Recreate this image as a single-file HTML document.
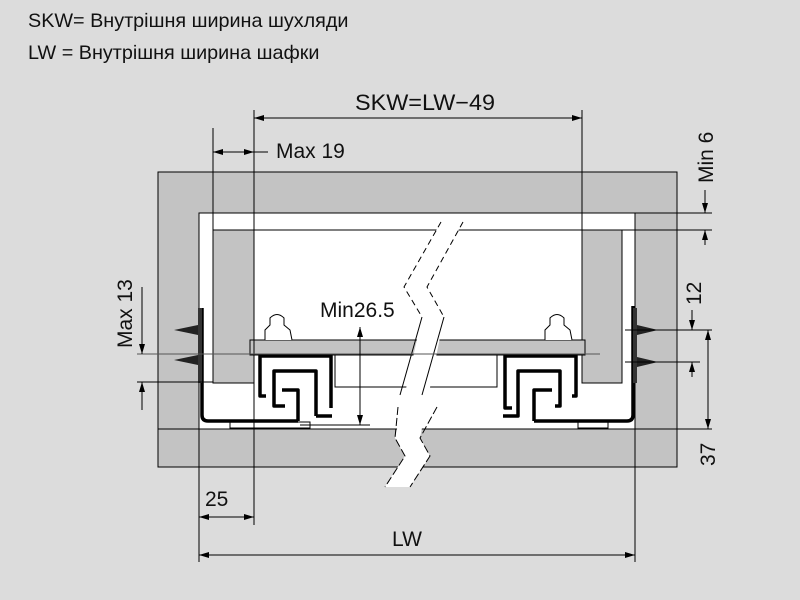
<!DOCTYPE html>
<html><head><meta charset="utf-8"><style>
html,body{margin:0;padding:0;background:#dcdcdc;}
svg{display:block;font-family:"Liberation Sans",sans-serif;}
</style></head><body>
<svg width="800" height="600" viewBox="0 0 800 600" xmlns="http://www.w3.org/2000/svg">
<defs>
<marker id="a" viewBox="0 0 10 6" refX="10" refY="3" markerWidth="10" markerHeight="6" orient="auto-start-reverse" markerUnits="userSpaceOnUse"><path d="M0,0 L10,3 L0,6z" fill="#000"/></marker>
</defs>
<rect width="800" height="600" fill="#dcdcdc"/>
<text x="28" y="27" font-size="19.8" fill="#111">SKW= Внутрішня ширина шухляди</text>
<text x="28" y="59" font-size="19.8" fill="#111">LW = Внутрішня ширина шафки</text>

<rect x="158" y="172" width="519" height="295" fill="#c3c3c3" stroke="#000" stroke-width="1"/>
<rect x="199" y="213" width="436" height="216" fill="#fff" stroke="#000" stroke-width="1"/>
<line x1="199" y1="429" x2="158" y2="429" stroke="#000"/>
<line x1="635" y1="429" x2="677" y2="429" stroke="#000"/>
<line x1="213" y1="230" x2="622" y2="230" stroke="#000"/>
<rect x="213" y="230" width="41" height="153" fill="#c3c3c3" stroke="#000"/>
<rect x="582" y="230" width="40" height="153" fill="#c3c3c3" stroke="#000"/>
<rect x="250" y="340" width="335" height="15" fill="#c3c3c3" stroke="#000"/>
<rect x="335" y="355" width="162" height="32" fill="#fff" stroke="#000"/>
<rect x="230" y="422" width="80" height="6" fill="#fff" stroke="#000"/>
<rect x="578" y="422" width="30" height="6" fill="#fff" stroke="#000"/>

<path d="M441,222 L404,287 L422,317 L395,438 L405,456 L385,487 L410,487 L430,456 L420,438 L444,317 L427,287 L463,222 Z" fill="#fff"/>
<g fill="none" stroke="#000" stroke-width="1">
<path d="M441,222 L404,287 L422,317" stroke-dasharray="6,4"/>
<path d="M463,222 L427,287 L444,317" stroke-dasharray="6,4"/>
<path d="M422,317 L400,395"/><path d="M444,317 L422,395"/>
<path d="M398,407 L395,438 L405,456 L385,487" stroke-dasharray="8,3"/>
<path d="M437,407 L420,438 L430,456 L410,487" stroke-dasharray="8,3"/>
</g>

<g fill="#fff" stroke="#000">
<path d="M265,340 L265,330 L270,325 L270,318 Q277,311 284,318 L284,325 L290,330 L292,340"/>
<path d="M545,340 L545,330 L550,325 L550,318 Q557,311 564,318 L564,325 L570,330 L572,340"/>
</g>

<g fill="none" stroke="#000" stroke-width="3.5" stroke-linejoin="round">
<path d="M202,308 L202,415 Q202,421 208,421 L298,421"/>
<path d="M266,396 L260,396 L260,356 L331,356 L331,408"/>
<path d="M285,406 L274,406 L274,371 L316,371 L316,416"/>
<path d="M282,390 L298,390 L298,421"/>
<path d="M316,416 L332,416"/>
<path d="M633,306 L633,415 Q633,421 627,421 L534,421"/>
<path d="M572,396 L576,396 L576,356 L505,356 L505,408 L512,408"/>
<path d="M555,406 L560,406 L560,371 L518,371 L518,416 L503,416"/>
<path d="M552,390 L534,390 L534,421"/>
</g>
<rect x="198" y="308" width="4" height="75" fill="#333"/>
<rect x="633" y="308" width="4" height="75" fill="#333"/>
<g fill="#222">
<path d="M174,330 L198,325 L198,335 Z"/><path d="M174,360 L198,355 L198,365 Z"/>
<path d="M658,330 L637,325 L637,335 Z"/><path d="M658,362 L637,357 L637,367 Z"/>
</g>

<g stroke="#000" stroke-width="1" fill="none">
<line x1="254" y1="110" x2="254" y2="525"/>
<line x1="582" y1="110" x2="582" y2="230"/>
<line x1="254" y1="118" x2="582" y2="118" marker-start="url(#a)" marker-end="url(#a)"/>
<line x1="213" y1="128" x2="213" y2="230"/>
<line x1="213" y1="152" x2="254" y2="152" marker-start="url(#a)" marker-end="url(#a)"/>
<line x1="254" y1="152" x2="268" y2="152"/>
<line x1="622" y1="213" x2="712" y2="213"/>
<line x1="622" y1="230" x2="712" y2="230"/>
<line x1="705" y1="190" x2="705" y2="213" marker-end="url(#a)"/>
<line x1="705" y1="245" x2="705" y2="230" marker-end="url(#a)"/>
<line x1="625" y1="330" x2="712" y2="330"/>
<line x1="625" y1="362" x2="700" y2="362"/>
<line x1="692" y1="310" x2="692" y2="330" marker-end="url(#a)"/>
<line x1="692" y1="377" x2="692" y2="362" marker-end="url(#a)"/>
<line x1="708" y1="330" x2="708" y2="429" marker-start="url(#a)" marker-end="url(#a)"/>
<line x1="677" y1="429" x2="712" y2="429"/>
<line x1="137" y1="354" x2="600" y2="354" stroke="#555"/>
<line x1="137" y1="382" x2="213" y2="382"/>
<line x1="142" y1="287" x2="142" y2="354" marker-end="url(#a)"/>
<line x1="142" y1="410" x2="142" y2="382" marker-end="url(#a)"/>
<line x1="360" y1="327" x2="360" y2="425" marker-start="url(#a)" marker-end="url(#a)"/>
<line x1="300" y1="425" x2="370" y2="425"/>
<line x1="199" y1="429" x2="199" y2="562"/>
<line x1="635" y1="429" x2="635" y2="562"/>
<line x1="199" y1="517" x2="254" y2="517" marker-start="url(#a)" marker-end="url(#a)"/>
<line x1="199" y1="555" x2="635" y2="555" marker-start="url(#a)" marker-end="url(#a)"/>
</g>
<g font-size="21" fill="#111">
<text x="355" y="110" font-size="22" textLength="140" lengthAdjust="spacingAndGlyphs">SKW=LW−49</text>
<text x="276" y="158">Max 19</text>
<text x="320" y="317">Min26.5</text>
<text x="205" y="506">25</text>
<text x="392" y="546">LW</text>
<text transform="translate(713,183) rotate(-90)">Min 6</text>
<text transform="translate(701,305) rotate(-90)">12</text>
<text transform="translate(715,466) rotate(-90)">37</text>
<text transform="translate(132,348) rotate(-90)">Max 13</text>
</g>
</svg>
</body></html>
